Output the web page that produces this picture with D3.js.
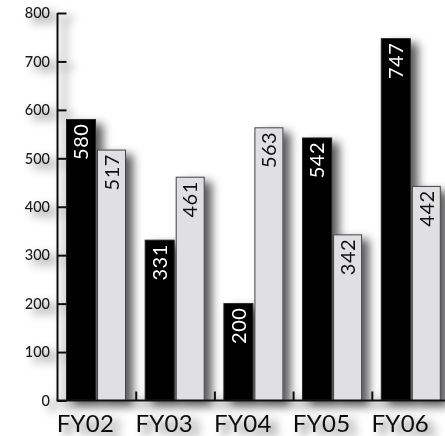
<!DOCTYPE html>
<html><head><meta charset="utf-8">
<script src="https://cdn.jsdelivr.net/npm/d3@7"></script>
<style>body{margin:0;background:#fff;overflow:hidden}svg{display:block}</style>
</head><body><svg id="c" width="445" height="436"></svg>
<script>
const categories = ["FY02","FY03","FY04","FY05","FY06"];
const seriesA = [580, 331, 200, 542, 747];
const seriesB = [517, 461, 563, 342, 442];
const yTicks = [0,100,200,300,400,500,600,700,800];

const svg = d3.select("#c");
const defs = svg.append("defs");
const f = defs.append("filter").attr("id","sh").attr("x","-20%").attr("y","-20%").attr("width","160%").attr("height","160%");
f.append("feDropShadow").attr("dx",7).attr("dy",5).attr("stdDeviation",5).attr("flood-color","#000").attr("flood-opacity",0.65);

const x0 = 57.5, y0 = 400.5;
const x = d3.scaleBand().domain(categories).range([x0, x0 + 5*78.7]).paddingInner(0).paddingOuter(0);
const y = d3.scaleLinear().domain([0,800]).range([y0, 13]);
const font = "Lato, 'Open Sans', sans-serif";

const g = svg.append("g").attr("filter","url(#sh)");

// bars
const bw = 29;
const bars = g.append("g");
categories.forEach((c,i)=>{
  const bx = x(c) + 9;
  bars.append("rect").attr("x",bx).attr("y",y(seriesA[i])).attr("width",bw).attr("height",y(0)-y(seriesA[i]))
    .attr("fill","#000").attr("stroke","#222").attr("stroke-width",1);
  bars.append("rect").attr("x",bx+bw+2).attr("y",y(seriesB[i])).attr("width",bw-1).attr("height",y(0)-y(seriesB[i]))
    .attr("fill","#e0e0e2").attr("stroke","#444").attr("stroke-width",1);
});

// axes
const yAxis = d3.axisRight(y).tickValues(yTicks).tickSize(9).tickFormat("");
const ya = g.append("g").attr("transform",`translate(${x0},0)`).call(yAxis);
ya.selectAll("path,line").attr("stroke","#111").attr("stroke-width",2);
ya.select(".domain").attr("d",`M0,${y(800)}V${y0}`);

g.selectAll(".ytl").data(yTicks).enter().append("text")
  .attr("x",50).attr("y",d=>y(d)).attr("dy","0.36em").attr("text-anchor","end")
  .attr("font-family",font).attr("font-size",14.5).attr("font-weight",500).attr("fill","#1a1a1a").text(d=>d);

const xAxis = d3.axisTop(x).tickSize(9).tickFormat("");
const xa = g.append("g").attr("transform",`translate(0,${y0})`).call(xAxis);
xa.selectAll("line").attr("transform",`translate(${-x.bandwidth()/2},0)`);
xa.selectAll("path,line").attr("stroke","#111").attr("stroke-width",2);
xa.select(".domain").attr("d",`M${x0-1},0H445`);
xa.selectAll(".tick").filter((d,i)=>i===0).select("line").remove();

g.selectAll(".xtl").data(categories).enter().append("text")
  .attr("x",d=>x(d)+28).attr("y",432).attr("text-anchor","middle")
  .attr("font-family",font).attr("font-size",24).attr("font-weight",400).attr("letter-spacing",0.3).attr("fill","#111").text(d=>d);

// value labels
const lab = svg.append("g");
categories.forEach((c,i)=>{
  const bx = x(c) + 9;
  lab.append("text").attr("transform",`translate(${bx+bw/2},${y(seriesA[i])+4}) rotate(-90)`)
    .attr("text-anchor","end").attr("dy","0.36em").attr("font-family",font).attr("font-size",20).attr("font-weight",400).attr("letter-spacing",0.5).attr("fill","#fff").text(seriesA[i]);
  lab.append("text").attr("transform",`translate(${bx+bw+2+(bw-1)/2},${y(seriesB[i])+4}) rotate(-90)`)
    .attr("text-anchor","end").attr("dy","0.36em").attr("font-family",font).attr("font-size",20).attr("font-weight",400).attr("letter-spacing",0.5).attr("fill","#111").text(seriesB[i]);
});
</script></body></html>
